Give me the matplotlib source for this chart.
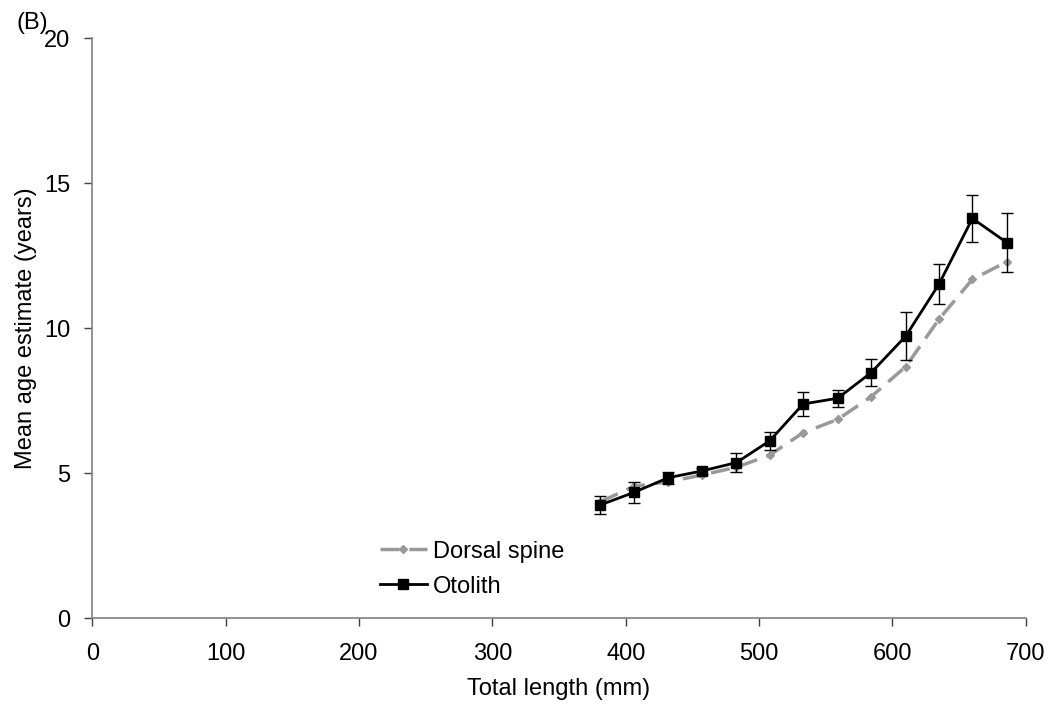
import numpy as np
from matplotlib import pyplot as plt
from matplotlib.lines import Line2D

plt.rcParams['font.family'] = ['Liberation Sans', 'DejaVu Sans']

length_mm = [381, 406, 432, 457, 483, 508, 533, 559, 584, 610, 635, 660, 686]
spine_age = [4.02, 4.55, 4.71, 4.94, 5.21, 5.63, 6.40, 6.86, 7.64, 8.68, 10.32, 11.69, 12.30]
otolith_age = [3.91, 4.34, 4.85, 5.08, 5.37, 6.12, 7.39, 7.59, 8.47, 9.73, 11.53, 13.79, 12.95]
otolith_err = [0.30, 0.37, 0.21, 0.10, 0.33, 0.31, 0.43, 0.29, 0.47, 0.83, 0.69, 0.82, 1.02]

fs = 17
grey = '#999999'
dash = (0, (5.5, 2.8))

fig = plt.figure(figsize=(10.54, 7.15), dpi=100)
ax = fig.add_axes([0.0876, 0.1352, 0.8856, 0.8112])

ax.plot(length_mm, spine_age, color=grey, lw=2.5, ls=dash, marker='D', ms=4.5)
ax.errorbar(length_mm, otolith_age, yerr=otolith_err, color='black', lw=2,
            marker='s', ms=7, elinewidth=1, capsize=4.5, capthick=1)

ax.set_xlim(0, 700)
ax.set_ylim(0, 20)
ax.set_xticks(np.arange(0, 701, 100))
ax.set_yticks([0, 5, 10, 15, 20])
for s in ['top', 'right']:
    ax.spines[s].set_visible(False)
for s in ['left', 'bottom']:
    ax.spines[s].set_color('#808080')
    ax.spines[s].set_linewidth(1.2)
ax.tick_params(direction='out', length=6, width=1, color='#404040', labelsize=fs)
ax.tick_params(axis='x', pad=12)
ax.tick_params(axis='y', pad=10)

ax.set_xlabel('Total length (mm)', fontsize=fs, labelpad=9)
ax.set_ylabel('Mean age estimate (years)', fontsize=fs, labelpad=5)

handles = [Line2D([], [], color=grey, lw=2.5, ls=dash, marker='D', ms=4.5),
           Line2D([], [], color='black', lw=2, marker='s', ms=7)]
ax.legend(handles, ['Dorsal spine', 'Otolith'], loc='center left',
          bbox_to_anchor=(0.308, 0.085), frameon=False, fontsize=fs,
          borderpad=0, borderaxespad=0, handlelength=2.0, handletextpad=0.25,
          labelspacing=0.55)

fig.text(0.016, 0.959, '(B)', fontsize=fs, va='baseline')

plt.savefig('out.png', dpi=100)
